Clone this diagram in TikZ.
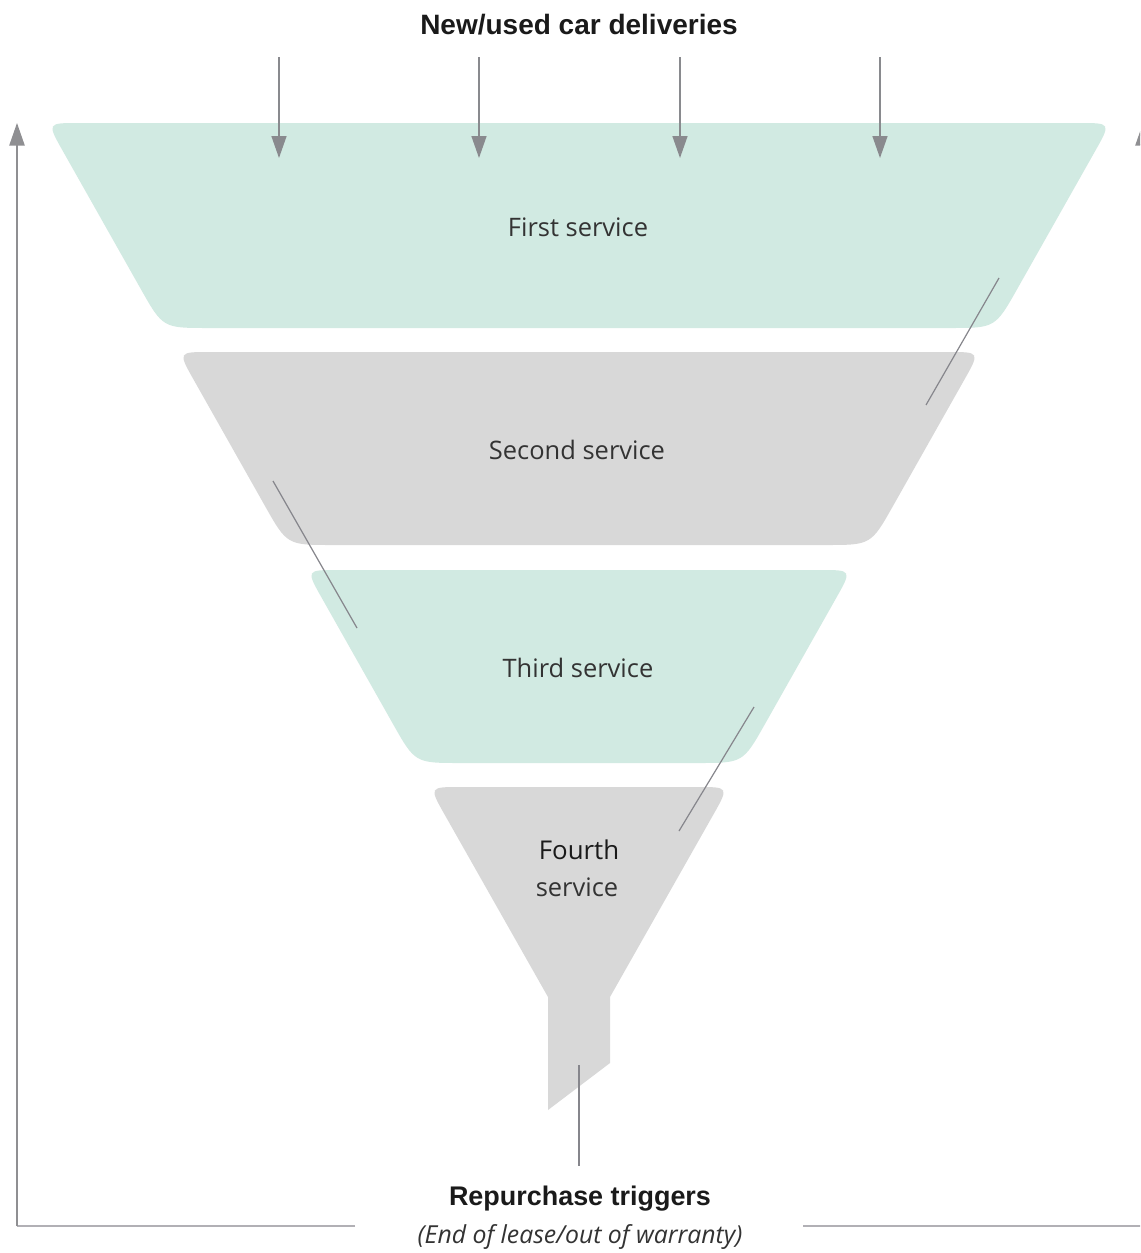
\documentclass[tikz,border=0pt]{standalone}
\usepackage{fontspec}
\setmainfont{Open Sans}
\newfontfamily\headfont{Liberation Sans}
\usetikzlibrary{arrows.meta,calc}

\definecolor{mint}{HTML}{D1EAE2}
\definecolor{stone}{HTML}{D8D8D8}
\definecolor{arrowgray}{HTML}{898A8E}
\definecolor{leadergray}{HTML}{86868C}
\definecolor{framegray}{HTML}{B1B0B5}
\definecolor{frameleft}{HTML}{8F8F92}
\definecolor{inkdark}{HTML}{1A1A1A}
\definecolor{inklabel}{HTML}{333333}

% one band of the funnel: colour, top y, bottom y, top half-width,
% top corner radius, bottom corner radius (sides run at a fixed slope)
\newcommand{\funnelband}[6]{%
  \pgfmathsetmacro\halfbottom{#4-0.565*(#3-#2)}
  \coordinate (TL) at ({579-#4},#2);
  \coordinate (TR) at ({579+#4},#2);
  \coordinate (BR) at ({579+\halfbottom},#3);
  \coordinate (BL) at ({579-\halfbottom},#3);
  \fill[#1] ($(TL)!#5!(TR)$) -- ($(TR)!#5!(TL)$) .. controls (TR) .. ($(TR)!#5!(BR)$)
    -- ($(BR)!#6!(TR)$) .. controls (BR) .. ($(BR)!#6!(BL)$)
    -- ($(BL)!#6!(BR)$) .. controls (BL) .. ($(BL)!#6!(TL)$)
    -- ($(TL)!#5!(BL)$) .. controls (TL) .. ($(TL)!#5!(TR)$) -- cycle;
}

\tikzset{
  headtext/.style={font=\headfont\bfseries\fontsize{20.2}{23}\selectfont, text=inkdark, inner sep=0pt},
  subtext/.style={font=\itshape\fontsize{18.6}{21}\selectfont, text=inklabel, inner sep=0pt},
  bandtext/.style={font=\fontsize{19.1}{22}\selectfont, text=inklabel, inner sep=0pt},
  feedarrow/.style={draw=arrowgray, line width=1.1pt, -{Triangle[length=16.5pt,width=11.25pt]}},
  leader/.style={draw=leadergray, line width=0.9pt},
  loopline/.style={draw=framegray, line width=1.3pt},
  loopside/.style={draw=frameleft, line width=1.1pt, -{Triangle[length=17pt,width=11.5pt]}},
}

\begin{document}
\begin{tikzpicture}[x=0.75pt,y=-0.75pt]
\clip (0,0) rectangle (1140,1253);
\fill[white] (0,0) rectangle (1140,1253);

% funnel bands
\funnelband{mint}{123}{328}{532}{24pt}{34pt}
\funnelband{stone}{352}{545}{401}{24pt}{34pt}
\funnelband{mint}{570}{763}{273}{24pt}{34pt}

% last band narrows into the spout
\coordinate (FL) at (429,787);
\coordinate (FR) at (729,787);
\coordinate (SR) at (610,997);
\coordinate (SL) at (548,997);
\fill[stone] ($(FL)!24pt!(FR)$) -- ($(FR)!24pt!(FL)$) .. controls (FR) .. ($(FR)!24pt!(SR)$)
  -- (SR) -- (610,1063) -- (548,1110) -- (SL)
  -- ($(FL)!24pt!(SL)$) .. controls (FL) .. ($(FL)!24pt!(FR)$) -- cycle;

% labels
\node[headtext, font=\headfont\bfseries\fontsize{21}{24}\selectfont] (deliveries) at (579,25) {New/used car deliveries};
\node[bandtext] (first) at (578,227) {First service};
\node[bandtext] (second) at (577,450) {Second service};
\node[bandtext] (third) at (578,668) {Third service};
\node[bandtext, text=inkdark, font=\fontsize{19.4}{22}\selectfont] (fourth) at (579,850) {Fourth};
\node[bandtext] (fourthb) at (577,887) {service};
\node[headtext] (triggers) at (580,1199) {Repurchase triggers};
\node[subtext] (lease) at (580,1237) {(End of lease/out of warranty)};

% incoming deliveries
\foreach \x [count=\i] in {279,479,680,880}{
  \coordinate (in\i) at (\x,57);
  \coordinate (drop\i) at (\x,158);
  \draw[feedarrow] (in\i) -- (drop\i);
}

% leader lines between the bands
\coordinate (la1) at (999,278);  \coordinate (la2) at (926,405);
\coordinate (lb1) at (273,481);  \coordinate (lb2) at (357,628);
\coordinate (lc1) at (754,707);  \coordinate (lc2) at (679,831);
\coordinate (ld1) at (579,1065); \coordinate (ld2) at (579,1166);
\draw[leader] (la1) -- (la2);
\draw[leader] (lb1) -- (lb2);
\draw[leader] (lc1) -- (lc2);
\draw[leader] (ld1) -- (ld2);

% repurchase loop back to the top
\coordinate (loopL) at (17,1226);
\coordinate (gapL) at (355,1226);
\coordinate (gapR) at (803,1226);
\coordinate (loopR) at (1143,1226);
\coordinate (topL) at (17,123);
\coordinate (topR) at (1143,123);
\draw[loopline] (gapL) -- (loopL);
\draw[loopline] (gapR) -- (loopR);
\draw[loopside] (loopL) -- (topL);
\draw[loopside] (loopR) -- (topR);
\end{tikzpicture}
\end{document}
